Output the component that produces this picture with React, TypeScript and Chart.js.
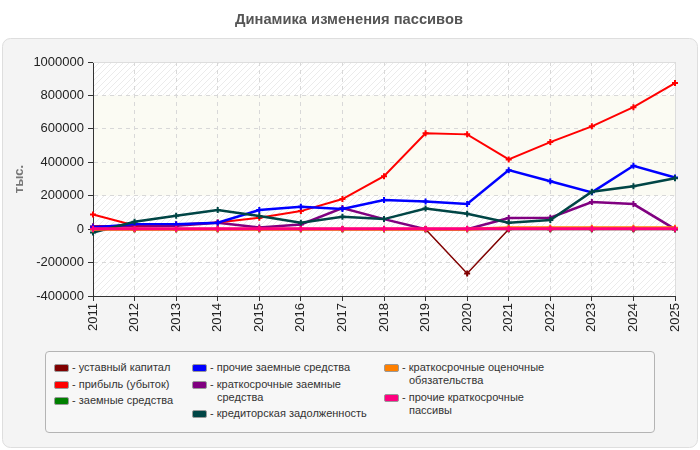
import React, { useEffect, useRef } from "react";
import { Chart, registerables } from "chart.js";

Chart.register(...registerables);

// Years on the horizontal axis
const years = ["2011", "2012", "2013", "2014", "2015", "2016", "2017", "2018", "2019", "2020", "2021", "2022", "2023", "2024", "2025"];

// Values, thousand roubles
const ustavnyKapital = [0, 0, 0, 0, 0, 0, 0, 0, 0, -265000, 0, 0, 0, 0, 0];
const pribyl = [88000, 22000, 28000, 40000, 68000, 108000, 180000, 317000, 573000, 567000, 417000, 521000, 615000, 730000, 874000];
const zaemnyeSredstva = [0, 0, 0, 0, 0, 0, 0, 0, 0, 0, 0, 0, 0, 0, 0];
const prochieZaemnye = [10000, 30000, 30000, 38000, 114000, 134000, 120000, 174000, 166000, 150000, 353000, 287000, 220000, 379000, 309000];
const kratkZaemnye = [18000, 18000, 20000, 38000, 10000, 28000, 126000, 60000, 0, 0, 66000, 68000, 162000, 150000, 0];
const kreditorka = [-20000, 44000, 80000, 114000, 78000, 38000, 74000, 60000, 124000, 92000, 38000, 54000, 224000, 257000, 305000];
const otsenochnye = [0, 0, 0, 0, 0, 0, 0, 0, 0, 0, 8000, 8000, 8000, 8000, 8000];
const prochieKratk = [2000, 2000, 2000, 2000, 2000, 2000, 2000, 2000, 2000, 2000, 2000, 2000, 2000, 2000, 2000];

// Y axis range
const yMin = -400000;
const yMax = 1000000;
const yStep = 200000;
const bandFrom = 200000;
const bandTo = 800000;

const series = [
  { label: "уставный капитал", data: ustavnyKapital, color: "#800000", width: 1.5, order: 2 },
  { label: "прибыль (убыток)", data: pribyl, color: "#ff0000", width: 2, order: 5 },
  { label: "заемные средства", data: zaemnyeSredstva, color: "#008000", width: 2, order: 9 },
  { label: "прочие заемные средства", data: prochieZaemnye, color: "#0000ff", width: 2.5, order: 4 },
  { label: "краткосрочные заемные средства", data: kratkZaemnye, color: "#800080", width: 2.5, order: 6 },
  { label: "кредиторская задолженность", data: kreditorka, color: "#004545", width: 2.5, order: 3 },
  { label: "краткосрочные оценочные обязательства", data: otsenochnye, color: "#ff8000", width: 3, order: 1 },
  { label: "прочие краткосрочные пассивы", data: prochieKratk, color: "#ff0080", width: 3, order: 0 },
];

// Legend columns: [series index, text lines]
const legendColumns: [number, string[]][][] = [
  [
    [0, ["- уставный капитал"]],
    [1, ["- прибыль (убыток)"]],
    [2, ["- заемные средства"]],
  ],
  [
    [3, ["- прочие заемные средства"]],
    [4, ["- краткосрочные заемные", "средства"]],
    [5, ["- кредиторская задолженность"]],
  ],
  [
    [6, ["- краткосрочные оценочные", "обязательства"]],
    [7, ["- прочие краткосрочные", "пассивы"]],
  ],
];

function makeHatch(): CanvasPattern | string {
  const c = document.createElement("canvas");
  c.width = 6;
  c.height = 6;
  const g = c.getContext("2d");
  if (!g) return "#ffffff";
  g.fillStyle = "#ffffff";
  g.fillRect(0, 0, 6, 6);
  g.strokeStyle = "#ebebeb";
  g.lineWidth = 1;
  g.beginPath();
  g.moveTo(-1, 7);
  g.lineTo(7, -1);
  g.moveTo(-1, 1);
  g.lineTo(1, -1);
  g.moveTo(5, 7);
  g.lineTo(7, 5);
  g.stroke();
  return g.createPattern(c, "repeat") || "#ffffff";
}

const backdrop = {
  id: "backdrop",
  beforeDraw(chart: any) {
    const { ctx, chartArea } = chart;
    const y = chart.scales.y;
    ctx.save();
    ctx.fillStyle = "#ffffff";
    ctx.fillRect(0, 0, chart.width, chart.height);

    // panel
    ctx.beginPath();
    ctx.roundRect(2.5, 38.5, 695, 409, 8);
    ctx.fillStyle = "#f4f4f4";
    ctx.fill();
    ctx.strokeStyle = "#dedede";
    ctx.lineWidth = 1;
    ctx.stroke();

    // title
    ctx.fillStyle = "#555555";
    ctx.font = "bold 14.7px 'Liberation Sans', Arial, sans-serif";
    ctx.textAlign = "center";
    ctx.textBaseline = "middle";
    ctx.fillText("Динамика изменения пассивов", 349, 20);

    // plot background
    const { left, top, right, bottom } = chartArea;
    ctx.fillStyle = makeHatch();
    ctx.fillRect(left, top, right - left, bottom - top);
    const b1 = y.getPixelForValue(bandTo);
    const b2 = y.getPixelForValue(bandFrom);
    ctx.fillStyle = "#fbfbf3";
    ctx.fillRect(left, b1, right - left, b2 - b1);

    // y axis title
    ctx.translate(19, (top + bottom) / 2);
    ctx.rotate(-Math.PI / 2);
    ctx.fillStyle = "#777777";
    ctx.font = "bold 13px 'Liberation Sans', Arial, sans-serif";
    ctx.textAlign = "center";
    ctx.textBaseline = "middle";
    ctx.fillText("тыс.", 0, 0);
    ctx.restore();
  },
  beforeDatasetsDraw(chart: any) {
    const { ctx, chartArea } = chart;
    const { left, top, right, bottom } = chartArea;
    ctx.save();
    ctx.strokeStyle = "#dddddd";
    ctx.lineWidth = 1;
    ctx.beginPath();
    ctx.moveTo(left, top + 0.5);
    ctx.lineTo(right + 0.5, top + 0.5);
    ctx.lineTo(right + 0.5, bottom);
    ctx.stroke();
    ctx.restore();
  },
};

export default function App() {
  const canvasRef = useRef<HTMLCanvasElement | null>(null);

  useEffect(() => {
    if (!canvasRef.current) return;
    const chart = new Chart(canvasRef.current, {
      type: "line",
      data: {
        labels: years,
        datasets: series.map((s) => ({
          label: s.label,
          data: s.data,
          borderColor: s.color,
          backgroundColor: s.color,
          borderWidth: s.width,
          pointStyle: "cross",
          pointRadius: 3,
          pointBorderWidth: 2,
          pointBorderColor: s.color,
          tension: 0,
          fill: false,
          order: s.order,
        })),
      },
      options: {
        responsive: false,
        animation: false,
        devicePixelRatio: 1,
        layout: { padding: { left: 33, top: 62, right: 25, bottom: 104 } },
        plugins: {
          legend: { display: false },
          title: { display: false },
          tooltip: { enabled: false },
        },
        scales: {
          x: {
            type: "category",
            offset: false,
            afterFit: (scale: any) => {
              scale.height = 50;
            },
            grid: {
              color: "#d8d8d8",
              tickColor: "#333333",
              tickLength: 5,
              tickBorderDash: [],
            },
            border: { display: true, color: "#333333", width: 1, dash: [4, 4] },
            ticks: {
              color: "#222222",
              font: { family: "'Liberation Sans', Arial, sans-serif", size: 13 },
              minRotation: 90,
              maxRotation: 90,
              padding: 2,
              autoSkip: false,
            },
          },
          y: {
            min: yMin,
            max: yMax,
            afterFit: (scale: any) => {
              scale.width = 60;
            },
            grid: {
              color: "#d8d8d8",
              tickColor: "#333333",
              tickLength: 5,
              tickBorderDash: [],
            },
            border: { display: true, color: "#333333", width: 1, dash: [4, 4] },
            ticks: {
              stepSize: yStep,
              color: "#222222",
              font: { family: "'Liberation Sans', Arial, sans-serif", size: 13 },
              padding: 4,
              callback: (v: any) => String(v),
            },
          },
        },
      },
      plugins: [backdrop],
    });
    return () => chart.destroy();
  }, []);

  const colLeft = [54, 192, 384];

  return (
    <div style={{ position: "absolute", left: 0, top: 0, width: 700, height: 450 }}>
      <canvas ref={canvasRef} width={700} height={450} style={{ display: "block" }} />
      <div
        style={{
          position: "absolute",
          left: 45,
          top: 351,
          width: 610,
          height: 82,
          border: "1px solid #b4b4b4",
          borderRadius: 4,
          background: "#f7f7f7",
          boxSizing: "border-box",
        }}
      />
      {legendColumns.map((col, ci) => (
        <div
          key={ci}
          style={{
            position: "absolute",
            left: colLeft[ci],
            top: 361,
            display: "flex",
            flexDirection: "column",
            gap: 3.5,
            fontFamily: "'Liberation Sans', Arial, sans-serif",
            fontSize: 11,
            lineHeight: "13px",
            color: "#333333",
          }}
        >
          {col.map(([idx, lines]) => (
            <div key={idx} style={{ display: "flex", alignItems: "flex-start" }}>
              <span
                style={{
                  display: "inline-block",
                  width: 13,
                  height: 6,
                  marginTop: 3,
                  marginRight: 3,
                  background: series[idx].color,
                  border: "1px solid #999999",
                  borderRadius: 2,
                  flex: "none",
                }}
              />
              <span>
                {lines.map((t, i) => (
                  <div key={i} style={{ paddingLeft: i > 0 ? 7 : 0 }}>
                    {t}
                  </div>
                ))}
              </span>
            </div>
          ))}
        </div>
      ))}
    </div>
  );
}
